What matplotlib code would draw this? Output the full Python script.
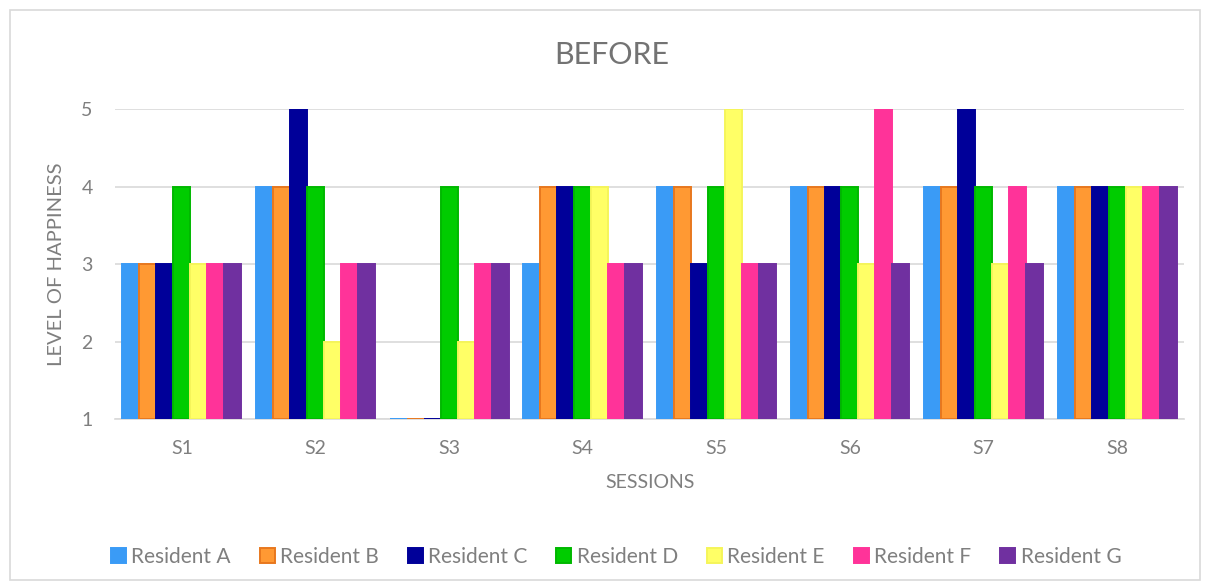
import numpy as np
import matplotlib.pyplot as plt
from matplotlib.patches import Rectangle

plt.rcParams['font.family'] = ['Lato', 'DejaVu Sans']

sessions = ["S1", "S2", "S3", "S4", "S5", "S6", "S7", "S8"]
residents = ["Resident A", "Resident B", "Resident C", "Resident D",
             "Resident E", "Resident F", "Resident G"]

resident_a = [3, 4, 1, 3, 4, 4, 4, 4]
resident_b = [3, 4, 1, 4, 4, 4, 4, 4]
resident_c = [3, 5, 1, 4, 3, 4, 5, 4]
resident_d = [4, 4, 4, 4, 4, 4, 4, 4]
resident_e = [3, 2, 2, 4, 5, 3, 3, 4]
resident_f = [3, 3, 3, 3, 3, 5, 4, 4]
resident_g = [3, 3, 3, 3, 3, 3, 3, 4]

series = [resident_a, resident_b, resident_c, resident_d,
          resident_e, resident_f, resident_g]
colors = ["#3A9BF6", "#FF9933", "#000099", "#00CC00",
          "#FFFF66", "#FF3399", "#7030A0"]
edges = ["#3A9BF6", "#E8781E", "#000099", "#00B800",
         "#F5F55A", "#FF3399", "#7030A0"]

text_col = "#7F7F7F"
baseline = 1

fig = plt.figure(figsize=(12.08, 5.87), dpi=100)
fig.patches.append(Rectangle((10 / 1208, 7 / 587), 1190 / 1208, 570 / 587,
                             transform=fig.transFigure, fill=False,
                             edgecolor="#D9D9D9", linewidth=1.2))
ax = fig.add_axes([0.0952, 0.2862, 0.885, 0.5281])

x = np.arange(len(sessions))
n = len(series)
group = 0.89
w = group / n
for i, (vals, c, e) in enumerate(zip(series, colors, edges)):
    vals = np.array(vals, dtype=float)
    pos = x - group / 2 + w * (i + 0.5)
    ax.bar(pos, vals - baseline, bottom=baseline, width=w, color=c,
           edgecolor=e, linewidth=1.4, label=residents[i], zorder=3)

ax.set_xlim(-0.5, len(sessions) - 0.5)
ax.set_ylim(1, 5)
ax.set_yticks([1, 2, 3, 4, 5])
ax.yaxis.grid(True, color="#D9D9D9", linewidth=1.2, zorder=0)
for s in ["top", "right", "left"]:
    ax.spines[s].set_visible(False)
ax.spines["bottom"].set_color("#D9D9D9")
ax.spines["bottom"].set_linewidth(1.2)
ax.tick_params(axis="both", length=0, labelsize=14, colors=text_col)
ax.tick_params(axis="x", pad=15)
ax.tick_params(axis="y", pad=16)
ax.set_xticks(x)
ax.set_xticklabels(sessions)

fig.text(612 / 1208, 1 - 55 / 587, "BEFORE", fontsize=22, color="#737373",
         ha="center", va="center")
ax.set_xlabel("SESSIONS", fontsize=14, color=text_col, labelpad=12)
ax.set_ylabel("LEVEL OF HAPPINESS", fontsize=14.5, color=text_col, labelpad=12)

leg = fig.legend(loc="center", bbox_to_anchor=(616 / 1208, 1 - 557 / 587), ncol=7,
                 frameon=False, fontsize=15, handlelength=0.72,
                 handleheight=0.72, handletextpad=0.25, columnspacing=1.4)
for t in leg.get_texts():
    t.set_color(text_col)

fig.savefig("out.png", dpi=100)
